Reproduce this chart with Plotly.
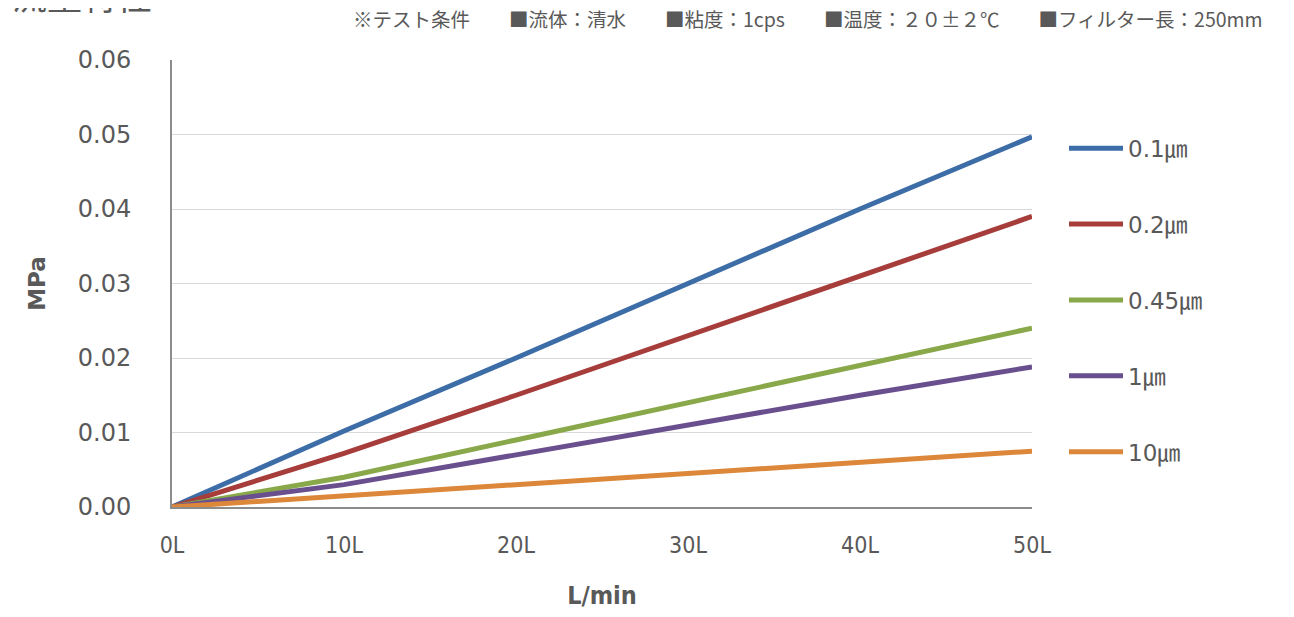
import plotly.graph_objects as go

flow = [0, 10, 20, 30, 40, 50]
x_ticks = [0, 10, 20, 30, 40, 50]
x_tick_labels = ["0L", "10L", "20L", "30L", "40L", "50L"]
y_ticks = [0, 0.01, 0.02, 0.03, 0.04, 0.05, 0.06]
y_tick_labels = ["0.00", "0.01", "0.02", "0.03", "0.04", "0.05", "0.06"]

names = ["0.1㎛", "0.2㎛", "0.45㎛", "1㎛", "10㎛"]
p_01 = [0, 0.0102, 0.0200, 0.0300, 0.0400, 0.0497]
p_02 = [0, 0.0072, 0.0150, 0.0230, 0.0310, 0.0390]
p_045 = [0, 0.0040, 0.0090, 0.0140, 0.0190, 0.0240]
p_1 = [0, 0.0030, 0.0070, 0.0110, 0.0150, 0.0188]
p_10 = [0, 0.0015, 0.0030, 0.0045, 0.0060, 0.0075]
series = [p_01, p_02, p_045, p_1, p_10]
colors = ["#3d6da6", "#a63d3b", "#88a84a", "#6a4f8e", "#dc8739"]

title_text = "流量特性"
note_text = "※テスト条件　　■流体：清水　　■粘度：1cps　　■温度：２０±２℃　　■フィルター長：250mm"

gray = "#595959"
W, H = 1286, 609
L, T, R, B = 164, 52, 262, 108
PW, PH = W - L - R, H - T - B

fig = go.Figure()
for i, (nm, ys, c) in enumerate(zip(names, series, colors)):
    fig.add_trace(go.Scatter(
        x=flow, y=ys, name=nm, mode="lines",
        line=dict(color=c, width=5),
        legendgroup=str(i),
    ))

fig.update_layout(
    width=W, height=H,
    paper_bgcolor="white", plot_bgcolor="white",
    margin=dict(l=L, r=R, t=T, b=B),
    showlegend=True,
    legend=dict(
        x=(1064 - 8 - L) / PW, xanchor="left", y=1 - (119 - T) / PH, yanchor="top",
        font=dict(family="DejaVu Sans, Noto Sans CJK JP", size=23, color=gray),
        tracegroupgap=43, itemwidth=54,
    ),
    xaxis=dict(
        range=[0, 50], tickvals=x_ticks, ticktext=x_tick_labels,
        showgrid=False, zeroline=False,
        showline=True, linecolor="#8c8c8c", linewidth=2,
        ticks="", ticklabelstandoff=16,
        tickfont=dict(family="DejaVu Sans Condensed, Liberation Sans Narrow", size=23, color=gray),
        title=dict(text="<b>L/min</b>", standoff=30,
                   font=dict(family="DejaVu Sans Condensed, DejaVu Sans", size=25, color=gray)),
    ),
    yaxis=dict(
        range=[0, 0.06], tickvals=y_ticks, ticktext=y_tick_labels,
        showgrid=True, gridcolor="#d9d9d9", gridwidth=1.3,
        zeroline=False,
        showline=True, linecolor="#8c8c8c", linewidth=2,
        ticks="", ticklabelstandoff=34,
        tickfont=dict(family="DejaVu Sans, Verdana", size=24, color=gray),
        title=dict(text="<b>MPa</b>", standoff=26,
                   font=dict(family="DejaVu Sans, Verdana", size=23, color=gray)),
    ),
    annotations=[
        dict(text=title_text, xref="paper", yref="paper", x=-(L - 2) / PW, y=1 + (T - 14) / PH,
             xanchor="left", yanchor="bottom", showarrow=False,
             font=dict(family="Noto Sans CJK JP", size=35, color=gray)),
        dict(text=note_text, xref="paper", yref="paper", x=(1257 - L) / PW, y=1 + (T - 10) / PH,
             xanchor="right", yanchor="middle", showarrow=False,
             font=dict(family="Noto Sans CJK JP", size=19.5, color=gray)),
    ],
)

fig.write_html("out.html")
